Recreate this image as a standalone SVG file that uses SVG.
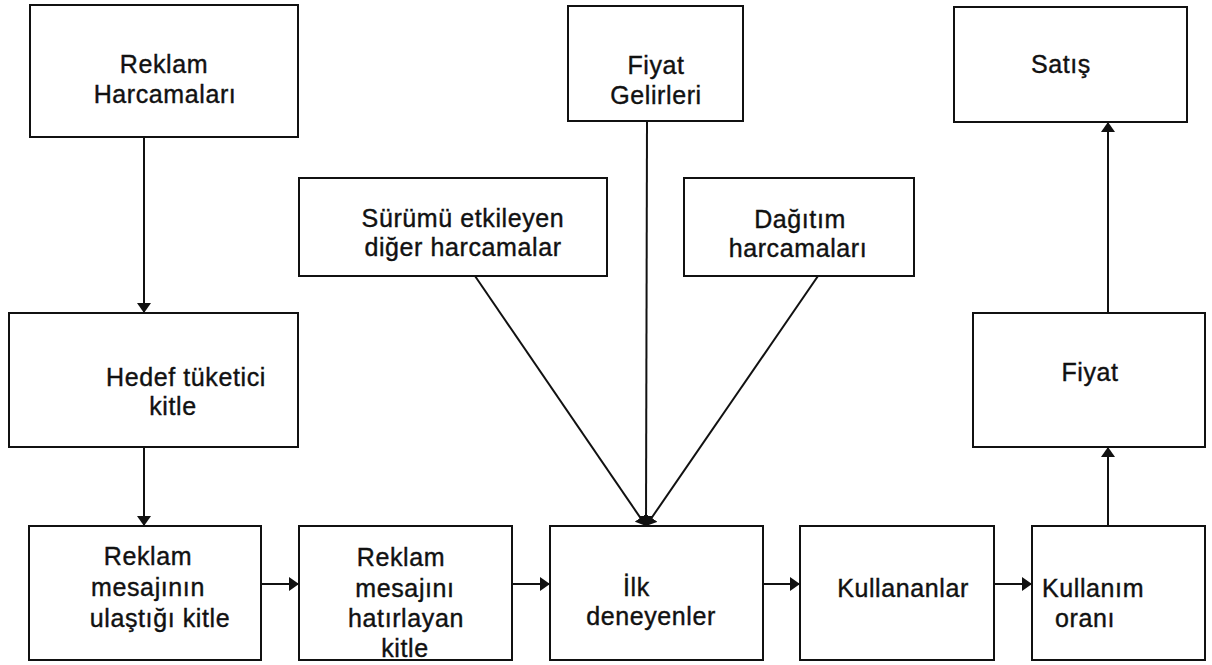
<svg xmlns="http://www.w3.org/2000/svg" width="1212" height="665" viewBox="0 0 1212 665">
  <style>
    .box { fill: #ffffff; stroke: #111111; stroke-width: 2; }
    .lbl { font-family: "Liberation Sans", Arial, sans-serif; font-size: 25px; fill: #111111; stroke: #111111; stroke-width: 0.4px; letter-spacing: 0.6px; }
    .mid { text-anchor: middle; }
    .edge { stroke: #111111; stroke-width: 2; fill: none; marker-end: url(#head); }
  </style>
  <defs>
    <marker id="head" viewBox="0 0 10 14" refX="10" refY="7" markerWidth="10" markerHeight="14" markerUnits="userSpaceOnUse" orient="auto">
      <path d="M0,0 L10,7 L0,14 z" fill="#111111"/>
    </marker>
  </defs>
  <rect width="1212" height="665" fill="#ffffff"/>

  <!-- connectors -->
  <g id="connectors">
    <line class="edge" x1="144" y1="137" x2="144" y2="313"/>
    <line class="edge" x1="144" y1="447" x2="144" y2="526"/>
    <line class="edge" x1="261" y1="584" x2="299" y2="584"/>
    <line class="edge" x1="512" y1="584" x2="550" y2="584"/>
    <line class="edge" x1="763" y1="584" x2="800" y2="584"/>
    <line class="edge" x1="994" y1="584" x2="1032" y2="584"/>
    <line class="edge" x1="475" y1="276" x2="646" y2="526"/>
    <line class="edge" x1="647" y1="121" x2="646" y2="526"/>
    <line class="edge" x1="818" y1="276" x2="646" y2="526"/>
    <line class="edge" x1="1108" y1="526" x2="1108" y2="447"/>
    <line class="edge" x1="1108" y1="313" x2="1108" y2="122"/>
  </g>

  <g id="reklam-harcamalari">
    <rect class="box" x="30" y="5" width="268" height="132"/>
    <text class="lbl mid" x="164" y="73">Reklam</text>
    <text class="lbl mid" x="165" y="103">Harcamaları</text>
  </g>

  <g id="hedef-kitle">
    <rect class="box" x="9" y="313" width="289" height="134"/>
    <text class="lbl mid" x="186" y="386">Hedef tüketici</text>
    <text class="lbl mid" x="173" y="415">kitle</text>
  </g>

  <g id="ulasilan-kitle">
    <rect class="box" x="29" y="526" width="232" height="134"/>
    <text class="lbl mid" x="148" y="565">Reklam</text>
    <text class="lbl mid" x="148" y="596">mesajının</text>
    <text class="lbl mid" x="160" y="627">ulaştığı kitle</text>
  </g>

  <g id="hatirlayan-kitle">
    <rect class="box" x="299" y="526" width="213" height="134"/>
    <text class="lbl mid" x="401" y="566">Reklam</text>
    <text class="lbl mid" x="405" y="597">mesajını</text>
    <text class="lbl mid" x="406" y="627">hatırlayan</text>
    <text class="lbl mid" x="405" y="657">kitle</text>
  </g>

  <g id="ilk-deneyenler">
    <rect class="box" x="550" y="526" width="213" height="134"/>
    <text class="lbl" x="623" y="596">İlk</text>
    <text class="lbl mid" x="651" y="625">deneyenler</text>
  </g>

  <g id="kullananlar">
    <rect class="box" x="800" y="526" width="194" height="134"/>
    <text class="lbl mid" x="903" y="597">Kullananlar</text>
  </g>

  <g id="kullanim-orani">
    <rect class="box" x="1032" y="526" width="173" height="134"/>
    <text class="lbl" x="1042" y="597">Kullanım</text>
    <text class="lbl" x="1055" y="627">oranı</text>
  </g>

  <g id="fiyat">
    <rect class="box" x="973" y="313" width="232" height="134"/>
    <text class="lbl mid" x="1090" y="381">Fiyat</text>
  </g>

  <g id="satis">
    <rect class="box" x="954" y="7" width="233" height="115"/>
    <text class="lbl mid" x="1061" y="73">Satış</text>
  </g>

  <g id="fiyat-gelirleri">
    <rect class="box" x="568" y="6" width="175" height="115"/>
    <text class="lbl mid" x="656" y="74">Fiyat</text>
    <text class="lbl mid" x="656" y="104">Gelirleri</text>
  </g>

  <g id="surum-harcamalari">
    <rect class="box" x="299" y="178" width="308" height="98"/>
    <text class="lbl mid" x="463" y="227">Sürümü etkileyen</text>
    <text class="lbl mid" x="463" y="256">diğer harcamalar</text>
  </g>

  <g id="dagitim-harcamalari">
    <rect class="box" x="684" y="178" width="230" height="98"/>
    <text class="lbl mid" x="800" y="228">Dağıtım</text>
    <text class="lbl mid" x="798" y="257">harcamaları</text>
  </g>
</svg>
